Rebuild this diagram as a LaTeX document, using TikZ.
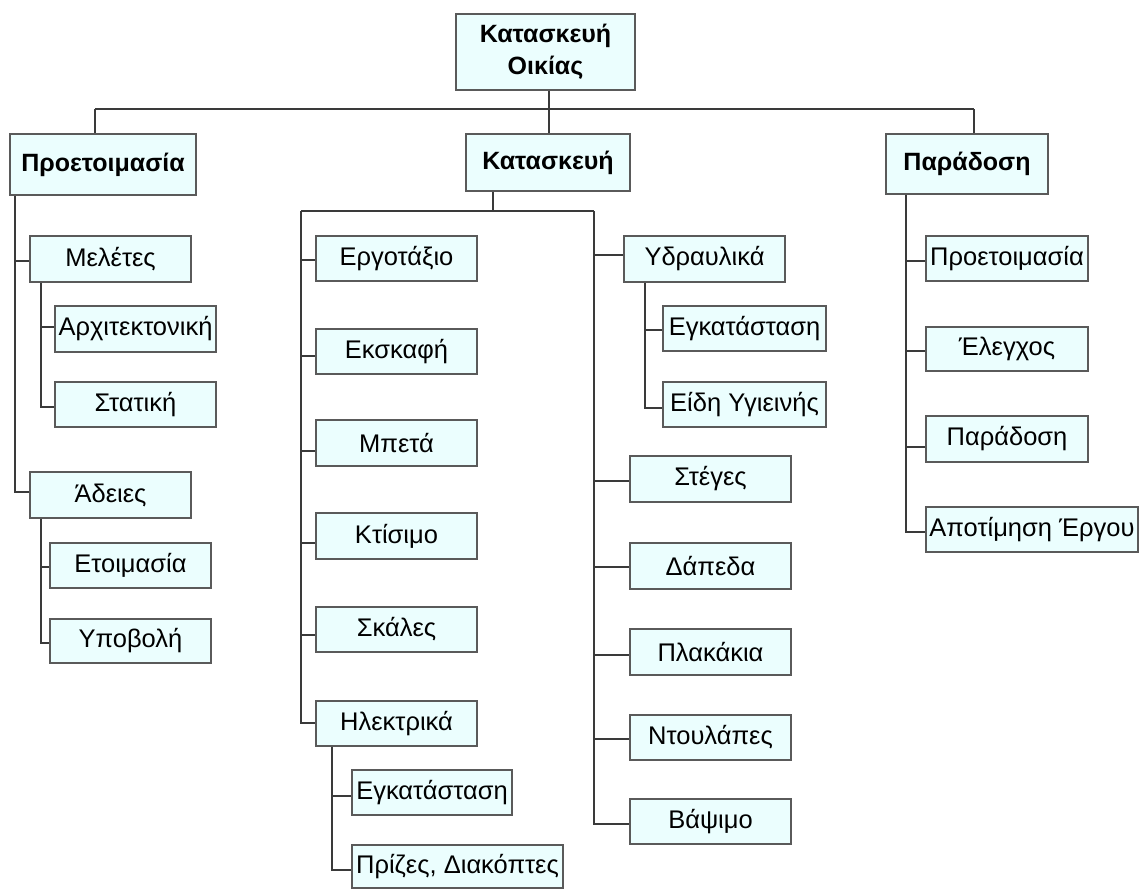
\documentclass[tikz,border=0pt]{standalone}
\usepackage{fontspec}
\setmainfont{Liberation Sans}
\definecolor{boxfill}{HTML}{EBFEFE}
\definecolor{boxline}{HTML}{5A5A5A}
\definecolor{connline}{HTML}{3A3A3A}
\tikzset{
  box/.style={draw=boxline, line width=1.3pt, fill=boxfill, inner sep=0pt, align=center,
    font=\fontsize{25.5}{28}\selectfont},
  hd/.style={box, font=\fontsize{25}{32}\selectfont\bfseries},
  conn/.style={draw=connline, line width=1.5pt},
}
\newcommand\bx[7][box]{\node[#1,minimum width={(#5-#3)*1pt},minimum height={(#6-#4)*1pt}] (#2) at ({(#3+#5)/2},{(#4+#6)/2+1}) {#7};}
\newcommand\lnk[3]{\draw[conn] (#1,#3) -- (#2.west |- 0,#3);}
\begin{document}
\begin{tikzpicture}[x=1pt,y=-1pt]
\useasboundingbox (0,0) rectangle (1140,889);
\coordinate (barL) at (95,109);
\coordinate (barM) at (549,109);
\coordinate (barR) at (974,109);
\coordinate (kbarL) at (301,211);
\coordinate (kbarM) at (493,211);
\coordinate (kbarR) at (594,211);
% boxes
\bx[hd]{root}{456}{13}{635}{89}{Κατασκευή\\Οικίας}
\bx[hd]{prep}{10}{133}{196}{194}{Προετοιμασία}
\bx[hd]{kat}{466}{133}{630}{190}{Κατασκευή}
\bx[hd]{par}{886}{133}{1048}{193}{Παράδοση}
% Προετοιμασία
\bx{mel}{30}{235}{191}{281}{Μελέτες}
\bx{arx}{55}{305}{216}{351}{Αρχιτεκτονική}
\bx{stat}{55}{381}{216}{426}{Στατική}
\bx{ade}{30}{471}{191}{517}{Άδειες}
\bx{etoi}{50}{542}{211}{587}{Ετοιμασία}
\bx{ypo}{50}{618}{211}{662}{Υποβολή}
% Κατασκευή left
\bx{erg}{316}{235}{477}{280}{Εργοτάξιο}
\bx{eks}{316}{328}{477}{373}{Εκσκαφή}
\bx{mpe}{316}{419}{477}{465}{Μπετά}
\bx{kti}{316}{512}{477}{558}{Κτίσιμο}
\bx{ska}{316}{606}{477}{651}{Σκάλες}
\bx{ilek}{316}{700}{477}{745}{Ηλεκτρικά}
\bx{egk}{352}{769}{512}{814}{Εγκατάσταση}
\bx{pri}{352}{844}{563}{887}{Πρίζες, Διακόπτες}
% Κατασκευή right
\bx{ydr}{624}{235}{785}{281}{Υδραυλικά}
\bx{egkb}{663}{305}{826}{350}{Εγκατάσταση}
\bx{eidi}{663}{381}{826}{426}{Είδη Υγιεινής}
\bx{steg}{630}{455}{791}{501}{Στέγες}
\bx{dap}{630}{542}{791}{588}{Δάπεδα}
\bx{plak}{630}{628}{791}{674}{Πλακάκια}
\bx{ntou}{630}{714}{791}{759}{Ντουλάπες}
\bx{vap}{630}{798}{791}{843}{Βάψιμο}
% Παράδοση
\bx{pprep}{926}{235}{1088}{280}{Προετοιμασία}
\bx{eleg}{926}{326}{1088}{370}{Έλεγχος}
\bx{ppar}{926}{415}{1088}{461}{Παράδοση}
\bx{apot}{926}{506}{1138}{551}{Αποτίμηση Έργου}
% top level connectors
\draw[conn] (root.south -| barM) -- (barM);
\draw[conn] (barL) -- (barR);
\draw[conn] (barL) -- (prep.north -| barL);
\draw[conn] (barM) -- (kat.north -| barM);
\draw[conn] (barR) -- (par.north -| barR);
% Προετοιμασία subtree
\draw[conn] (prep.south -| 15,0) |- (ade.west |- 0,492);
\lnk{15}{mel}{261}
\draw[conn] (mel.south -| 41,0) |- (stat.west |- 0,407);
\lnk{41}{arx}{327}
\draw[conn] (ade.south -| 41,0) |- (ypo.west |- 0,643);
\lnk{41}{etoi}{567}
% Κατασκευή subtree
\draw[conn] (kat.south -| kbarM) -- (kbarM);
\draw[conn] (kbarL) -- (kbarR);
\draw[conn] (kbarL) |- (ilek.west |- 0,723);
\draw[conn] (kbarR) |- (vap.west |- 0,824);
\lnk{301}{erg}{260}
\lnk{301}{eks}{356}
\lnk{301}{mpe}{451}
\lnk{301}{kti}{543}
\lnk{301}{ska}{635}
\draw[conn] (ilek.south -| 332,0) |- (pri.west |- 0,870);
\lnk{332}{egk}{796}
\lnk{594}{ydr}{255}
\draw[conn] (ydr.south -| 645,0) |- (eidi.west |- 0,408);
\lnk{645}{egkb}{330}
\lnk{594}{steg}{481}
\lnk{594}{dap}{567}
\lnk{594}{plak}{655}
\lnk{594}{ntou}{739}
% Παράδοση subtree
\draw[conn] (par.south -| 906,0) |- (apot.west |- 0,532);
\lnk{906}{pprep}{261}
\lnk{906}{eleg}{351}
\lnk{906}{ppar}{447}
\end{tikzpicture}
\end{document}
